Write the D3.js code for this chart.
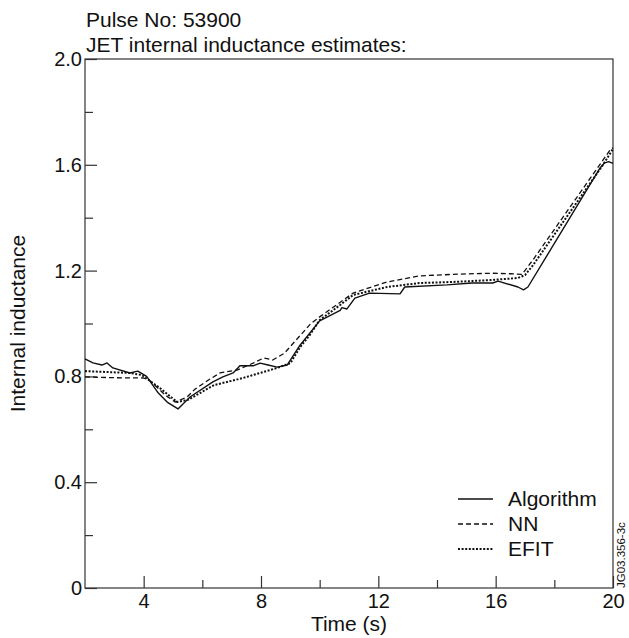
<!DOCTYPE html>
<html>
<head>
<meta charset="utf-8">
<script src="https://cdn.jsdelivr.net/npm/d3@7"></script>
<style>
  html, body { margin: 0; padding: 0; background: #fff; }
  svg { display: block; font-family: "Liberation Sans", Arial, sans-serif; }
  .axis path, .axis line { stroke: #333; stroke-width: 1.2; }
  .axis text { font-size: 20px; fill: #111; }
</style>
</head>
<body>
<svg id="chart" width="629" height="638"></svg>
<script>
(function () {
  "use strict";

  // Algorithm (solid)
  var algoTime = [2.0, 2.27, 2.58, 2.75, 2.95, 3.53, 3.8, 4.1, 4.5, 4.8, 5.17, 5.58, 6.36, 6.7, 7.05, 7.28, 7.73, 7.97, 8.24, 8.55, 8.89, 9.33, 10.0, 10.7, 10.76, 10.93, 11.2, 11.7, 12.74, 12.9, 14.34, 15.19, 15.9, 16.08, 16.76, 16.95, 17.1, 19.56, 19.7, 19.85, 20.0];
  var algoVal = [0.866, 0.851, 0.843, 0.851, 0.832, 0.813, 0.82, 0.8, 0.737, 0.703, 0.677, 0.722, 0.779, 0.798, 0.813, 0.84, 0.84, 0.85, 0.843, 0.835, 0.843, 0.918, 1.01, 1.05, 1.06, 1.055, 1.096, 1.115, 1.112, 1.138, 1.146, 1.153, 1.153, 1.16, 1.138, 1.127, 1.138, 1.588, 1.606, 1.612, 1.605];

  // NN (dashed)
  var nnTime = [2.0, 3.0, 4.0, 4.2, 4.73, 5.07, 5.48, 5.75, 6.26, 6.6, 7.18, 7.73, 8.1, 8.4, 8.8, 9.7, 10.0, 11.14, 12.3, 13.4, 14.8, 15.9, 16.5, 16.9, 17.27, 19.9, 20.0];
  var nnVal = [0.798, 0.795, 0.794, 0.786, 0.73, 0.703, 0.722, 0.752, 0.79, 0.813, 0.824, 0.85, 0.87, 0.862, 0.888, 1.0, 1.025, 1.115, 1.157, 1.18, 1.187, 1.19, 1.188, 1.186, 1.24, 1.656, 1.664];

  // EFIT (dotted)
  var efitTime = [2.0, 3.53, 3.94, 4.55, 5.14, 5.5, 5.92, 6.4, 7.39, 8.55, 9.0, 9.33, 9.66, 10.0, 10.7, 11.14, 12.3, 13.4, 14.55, 15.8, 16.76, 17.0, 17.27, 19.66, 20.0];
  var efitVal = [0.82, 0.813, 0.805, 0.756, 0.703, 0.711, 0.737, 0.767, 0.794, 0.832, 0.85, 0.91, 0.956, 1.013, 1.07, 1.108, 1.138, 1.153, 1.157, 1.164, 1.172, 1.183, 1.22, 1.6, 1.66];

  var xMajor = [4, 8, 12, 16, 20];
  var xMinor = [6, 10, 14, 18];
  var yMajor = [0, 0.4, 0.8, 1.2, 1.6, 2.0];
  var yMinor = [0.2, 0.6, 1.0, 1.4, 1.8];

  var seriesNames = ["Algorithm", "NN", "EFIT"];
  var dashes = [null, "5,3", "2,1.6"];
  var widths = [1.4, 1.3, 2];

  var margin = { left: 85, top: 59, right: 16, bottom: 50 };
  var W = 629, H = 638;
  var iw = W - margin.left - margin.right;
  var ih = H - margin.top - margin.bottom;

  var svg = d3.select("#chart");
  var g = svg.append("g").attr("transform", "translate(" + margin.left + "," + margin.top + ")");

  var x = d3.scaleLinear().domain([2, 20]).range([0, iw]);
  var y = d3.scaleLinear().domain([0, 2.0]).range([ih, 0]);

  // Frame
  g.append("rect").attr("x", 0).attr("y", 0).attr("width", iw).attr("height", ih)
    .attr("fill", "none").attr("stroke", "#333").attr("stroke-width", 1.2);

  // Minor ticks
  g.append("g").attr("class", "axis").attr("transform", "translate(0," + ih + ")")
    .call(d3.axisBottom(x).tickValues(xMinor).tickSize(-8).tickFormat(""))
    .select(".domain").remove();
  g.append("g").attr("class", "axis")
    .call(d3.axisLeft(y).tickValues(yMinor).tickSize(-8).tickFormat(""))
    .select(".domain").remove();

  // Major ticks + labels
  g.append("g").attr("class", "axis").attr("transform", "translate(0," + ih + ")")
    .call(d3.axisBottom(x).tickValues(xMajor).tickSize(-12).tickPadding(6).tickFormat(d3.format("d")))
    .select(".domain").remove();
  g.append("g").attr("class", "axis")
    .call(d3.axisLeft(y).tickValues(yMajor).tickSize(-12).tickPadding(3)
      .tickFormat(function (d) { return d === 0 ? "0" : d3.format(".1f")(d); }))
    .select(".domain").remove();

  // Lines
  var line = d3.line().x(function (d) { return x(d[0]); }).y(function (d) { return y(d[1]); });
  var series = [d3.zip(algoTime, algoVal), d3.zip(nnTime, nnVal), d3.zip(efitTime, efitVal)];
  series.forEach(function (pts, i) {
    g.append("path").datum(pts)
      .attr("fill", "none").attr("stroke", "#111")
      .attr("stroke-width", widths[i])
      .attr("stroke-dasharray", dashes[i])
      .attr("stroke-linejoin", "round")
      .attr("d", line);
  });

  // Legend
  var legend = g.append("g").attr("transform", "translate(" + (458 - margin.left) + "," + (499 - margin.top) + ")");
  seriesNames.forEach(function (name, i) {
    var row = legend.append("g").attr("transform", "translate(0," + (i * 25) + ")");
    row.append("line").attr("x1", 0).attr("x2", 35).attr("y1", 0).attr("y2", 0)
      .attr("stroke", "#111").attr("stroke-width", widths[i]).attr("stroke-dasharray", dashes[i]);
    row.append("text").attr("x", 50).attr("y", 0).attr("dy", "0.35em")
      .attr("font-size", 21).attr("fill", "#111").text(name);
  });

  // Titles
  svg.append("text").attr("x", 86).attr("y", 27).attr("font-size", 21).attr("fill", "#111")
    .text("Pulse No: 53900");
  svg.append("text").attr("x", 86).attr("y", 52).attr("font-size", 21).attr("fill", "#111")
    .text("JET internal inductance estimates:");

  svg.append("text").attr("x", margin.left + iw / 2).attr("y", 631)
    .attr("text-anchor", "middle").attr("font-size", 21).attr("fill", "#111")
    .text("Time (s)");

  svg.append("text").attr("transform", "translate(25," + (margin.top + ih / 2) + ") rotate(-90)")
    .attr("text-anchor", "middle").attr("font-size", 21).attr("fill", "#111")
    .text("Internal inductance");

  svg.append("text").attr("transform", "translate(625,588) rotate(-90)")
    .attr("text-anchor", "start").attr("font-size", 11.5).attr("fill", "#111")
    .text("JG03.356-3c");
})();
</script>
</body>
</html>
